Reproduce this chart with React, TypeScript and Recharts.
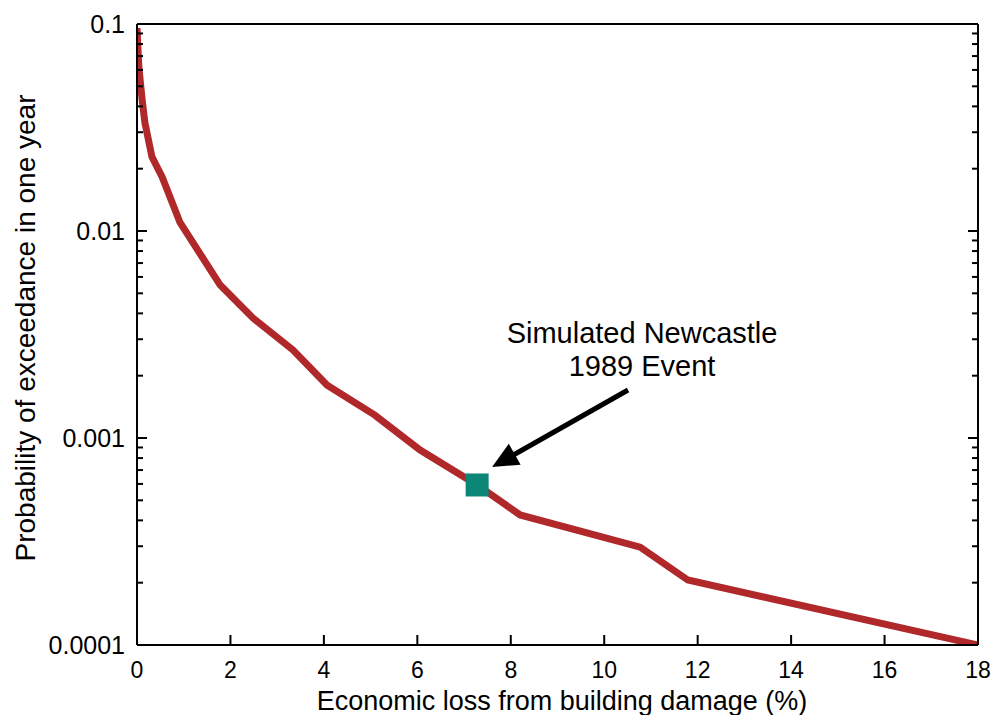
import { ComposedChart, Line, Scatter, XAxis, YAxis, ReferenceLine, ReferenceDot } from 'recharts';

// loss curve
const lossPct = [0, 0.04, 0.11, 0.17, 0.32, 0.54, 0.92, 1.78, 2.48, 3.34, 4.07, 5.09, 6.06, 7.28, 8.2, 10.77, 11.79, 18];
const exceedProb = [0.0956, 0.0619, 0.043, 0.0333, 0.0228, 0.0182, 0.011, 0.00548, 0.0038, 0.00266, 0.0018, 0.00129, 0.000875, 0.000593, 0.000425, 0.000297, 0.000206, 0.0001];

// simulated Newcastle 1989 event
const eventLoss = [7.28];
const eventProb = [0.000593];

const xTicks = [0, 2, 4, 6, 8, 10, 12, 14, 16, 18];
const yTicks = [
  0.0001, 0.0002, 0.0003, 0.0004, 0.0005, 0.0006, 0.0007, 0.0008, 0.0009,
  0.001, 0.002, 0.003, 0.004, 0.005, 0.006, 0.007, 0.008, 0.009,
  0.01, 0.02, 0.03, 0.04, 0.05, 0.06, 0.07, 0.08, 0.09,
  0.1,
];
const yLabelTicks = [0.0001, 0.001, 0.01, 0.1];

const curve = lossPct.map((x, i) => ({ x, y: exceedProb[i] }));
const event = eventLoss.map((x, i) => ({ x, y: eventProb[i] }));

const FONT = '"Liberation Sans", Arial, Helvetica, sans-serif';
const MARGIN = 8;

const isMajor = (v: number) => yLabelTicks.some((t) => Math.abs(t - v) / t < 1e-6);

function BottomTick({ x, y, payload }: any) {
  const y0 = y - MARGIN;
  return (
    <g>
      <line x1={x} x2={x} y1={y0} y2={y0 - 10} stroke="#000" strokeWidth={2} />
      <text x={x} y={y0 + 33} textAnchor="middle" fontSize={23} fontFamily={FONT} fill="#000">
        {payload.value}
      </text>
    </g>
  );
}

function TopTick({ x, y }: any) {
  const y0 = y + MARGIN;
  return <line x1={x} x2={x} y1={y0} y2={y0 + 10} stroke="#000" strokeWidth={2} />;
}

function LeftTick({ x, y, payload }: any) {
  const x0 = x + MARGIN;
  const major = isMajor(payload.value);
  return (
    <g>
      <line x1={x0} x2={x0 + (major ? 10 : 6)} y1={y} y2={y} stroke="#000" strokeWidth={2} />
      {major && (
        <text x={x0 - 12} y={y + 9} textAnchor="end" fontSize={25} fontFamily={FONT} fill="#000">
          {String(payload.value)}
        </text>
      )}
    </g>
  );
}

function RightTick({ x, y, payload }: any) {
  const x0 = x - MARGIN;
  const major = isMajor(payload.value);
  return <line x1={x0} x2={x0 - (major ? 10 : 6)} y1={y} y2={y} stroke="#000" strokeWidth={2} />;
}

function Arrow({ x1, y1, x2, y2 }: any) {
  const dx = x2 - x1;
  const dy = y2 - y1;
  const len = Math.sqrt(dx * dx + dy * dy);
  const ux = dx / len;
  const uy = dy / len;
  const head = 26;
  const half = 12;
  const bx = x2 - ux * head;
  const by = y2 - uy * head;
  return (
    <g>
      <line x1={x1} y1={y1} x2={bx + ux * 2} y2={by + uy * 2} stroke="#000" strokeWidth={5} />
      <polygon
        points={`${x2},${y2} ${bx - uy * half},${by + ux * half} ${bx + uy * half},${by - ux * half}`}
        fill="#000"
      />
    </g>
  );
}

function Note({ cx, cy }: any) {
  return (
    <g fontFamily={FONT} fontSize={29} fill="#000" textAnchor="middle">
      <text x={cx} y={cy}>Simulated Newcastle</text>
      <text x={cx} y={cy + 33}>1989 Event</text>
    </g>
  );
}

function Square({ cx, cy }: any) {
  return <rect x={cx - 11.5} y={cy - 11.5} width={23} height={23} fill="#0b8677" />;
}

export default function App() {
  return (
    <div style={{ position: 'absolute', left: 0, top: 0, background: '#fff' }}>
      <ComposedChart width={997} height={715} margin={{ top: 23, right: 18, left: 0, bottom: 0 }}>
        <XAxis
          dataKey="x"
          type="number"
          domain={[0, 18]}
          ticks={xTicks}
          interval={0}
          height={70}
          tickSize={0}
          tickMargin={MARGIN}
          tick={(p: any) => <BottomTick {...p} />}
          axisLine={{ stroke: '#000', strokeWidth: 2 }}
          tickLine={false}
          allowDataOverflow
          label={{
            content: ({ viewBox }: any) => (
              <text x={562} y={viewBox.y + 65} textAnchor="middle" fontSize={27} fontFamily={FONT} fill="#000">
                Economic loss from building damage (%)
              </text>
            ),
          }}
        />
        <XAxis
          xAxisId="top"
          orientation="top"
          dataKey="x"
          type="number"
          domain={[0, 18]}
          ticks={xTicks}
          interval={0}
          height={1}
          tickSize={0}
          tickMargin={MARGIN}
          tick={(p: any) => <TopTick {...p} />}
          axisLine={{ stroke: '#000', strokeWidth: 2 }}
          tickLine={false}
        />
        <YAxis
          dataKey="y"
          type="number"
          scale="log"
          domain={[0.0001, 0.1]}
          ticks={yTicks}
          interval={0}
          width={137}
          tickSize={0}
          tickMargin={MARGIN}
          tick={(p: any) => <LeftTick {...p} />}
          axisLine={{ stroke: '#000', strokeWidth: 2 }}
          tickLine={false}
          allowDataOverflow
          label={{
            content: () => (
              <text
                x={35}
                y={328}
                transform="rotate(-90 35 328)"
                textAnchor="middle"
                fontSize={28}
                fontFamily={FONT}
                fill="#000"
              >
                Probability of exceedance in one year
              </text>
            ),
          }}
        />
        <YAxis
          yAxisId="right"
          orientation="right"
          dataKey="y"
          type="number"
          scale="log"
          domain={[0.0001, 0.1]}
          ticks={yTicks}
          interval={0}
          width={1}
          tickSize={0}
          tickMargin={MARGIN}
          tick={(p: any) => <RightTick {...p} />}
          axisLine={{ stroke: '#000', strokeWidth: 2 }}
          tickLine={false}
          allowDataOverflow
        />
        <Line
          data={curve}
          dataKey="y"
          type="linear"
          stroke="#b0282a"
          strokeWidth={7}
          dot={false}
          activeDot={false}
          isAnimationActive={false}
        />
        <ReferenceLine
          segment={[
            { x: 10.51, y: 0.001706 },
            { x: 7.6, y: 0.000724 },
          ]}
          ifOverflow="visible"
          shape={(p: any) => <Arrow {...p} />}
        />
        <ReferenceDot x={10.81} y={0.00288} ifOverflow="visible" shape={(p: any) => <Note {...p} />} />
        <Scatter data={event} dataKey="y" shape={(p: any) => <Square {...p} />} isAnimationActive={false} />
      </ComposedChart>
    </div>
  );
}
